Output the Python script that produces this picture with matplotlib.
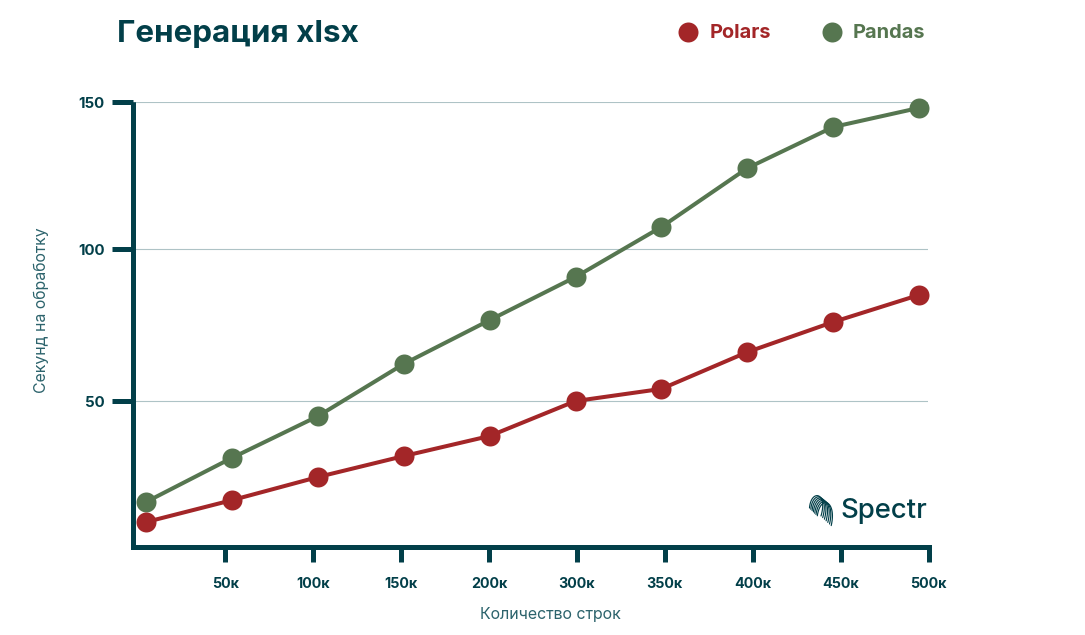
import numpy as np
import matplotlib
matplotlib.use("Agg")
import matplotlib.pyplot as plt

plt.rcParams["font.family"] = ["Inter", "Noto Sans", "DejaVu Sans"]

DARK = "#023f49"
RED = "#a32628"
GREEN = "#567650"
GRID = "#aec3c6"

point_index = [0, 1, 2, 3, 4, 5, 6, 7, 8, 9]
polars = [10.2, 17.4, 25.0, 31.9, 38.5, 50.0, 54.0, 66.1, 76.0, 84.9]
pandas_vals = [16.8, 31.3, 45.0, 62.2, 76.6, 90.8, 107.5, 127.5, 141.5, 148.0]

x_labels = ["50к", "100к", "150к", "200к", "300к", "350к", "400к", "450к", "500к"]
y_ticks = [50, 100, 150]

W, H = 1085, 635
fig = plt.figure(figsize=(W / 100, H / 100), dpi=100)

# axes box in pixels of the picture
left, right, top, bottom = 133, 928.5, 102, 547
ax = fig.add_axes([left / W, 1 - bottom / H, (right - left) / W, (bottom - top) / H])


# the gridlines in the picture are not evenly spaced
def y_forward(v):
    v = np.asarray(v, dtype=float)
    return np.where(v < 100, v * 3.04, 304 + (v - 100) * 2.94)


def y_inverse(p):
    p = np.asarray(p, dtype=float)
    return np.where(p < 304, p / 3.04, 100 + (p - 304) / 2.94)


ax.set_yscale("function", functions=(y_forward, y_inverse))
ax.set_ylim(2, 150)
ax.set_xlim((left - 146) / 85.9, (right - 146) / 85.9)

ax.plot(point_index, pandas_vals, color=GREEN, lw=2.9, marker="o", ms=14.4, mew=0, zorder=3, clip_on=False)
ax.plot(point_index, polars, color=RED, lw=2.9, marker="o", ms=14.4, mew=0, zorder=4, clip_on=False)

ax.set_yticks(y_ticks)
ax.set_yticklabels([str(v) for v in y_ticks], fontsize=10.8, fontweight="bold", color=DARK)
ax.yaxis.set_minor_locator(plt.NullLocator())
ax.tick_params(axis="y", length=15, width=3.6, color=DARK, pad=5.5)
ax.grid(axis="y", color=GRID, lw=0.8)
ax.set_axisbelow(True)

# x ticks sit on their own spacing, a bit wider than the points
ax2 = ax.twiny()
ax2.set_xlim((left - 137.5) / 87.9, (right - 137.5) / 87.9)
ax2.xaxis.set_ticks_position("bottom")
ax2.xaxis.set_label_position("bottom")
ax2.set_xticks(range(1, len(x_labels) + 1))
ax2.set_xticklabels(x_labels, fontsize=10.3, fontweight="bold", color=DARK)
ax2.tick_params(axis="x", length=11, width=3.6, color=DARK, pad=10.5)
ax.tick_params(axis="x", bottom=False, labelbottom=False)

for a in (ax, ax2):
    a.spines["top"].set_visible(False)
    a.spines["right"].set_visible(False)
    a.spines["left"].set_linewidth(3.6)
    a.spines["bottom"].set_linewidth(3.6)
    a.spines["left"].set_color(DARK)
    a.spines["bottom"].set_color(DARK)
    a.spines["left"].set_capstyle("butt")
    a.spines["bottom"].set_capstyle("projecting")
    a.patch.set_alpha(0)

# overlay in picture pixels for title, legend and logo
ov = fig.add_axes([0, 0, 1, 1], zorder=10)
ov.set_xlim(0, W)
ov.set_ylim(H, 0)
ov.axis("off")

ov.text(117, 33.5, "Генерация xlsx", fontsize=22.6, fontweight="bold", color=DARK, va="center")
ov.plot([688], [32], "o", color=RED, ms=14.4, mew=0)
ov.text(710, 33.5, "Polars", fontsize=14.4, fontweight="bold", color=RED, va="center")
ov.plot([832], [32], "o", color=GREEN, ms=14.4, mew=0)
ov.text(853, 33.5, "Pandas", fontsize=14.4, fontweight="bold", color=GREEN, va="center")

ov.text(41.5, 310, "Секунд на обработку", fontsize=11.4, color="#2c636c", rotation=90, ha="center", va="center")
ov.text(550.5, 614.5, "Количество строк", fontsize=11.5, color="#2c636c", ha="center", va="center")

# logo
ov.text(840.5, 511, "Spectr", fontsize=19.8, fontweight="medium", color=DARK, va="center")
t = np.linspace(0, 1, 40)[:, None]
for k in range(7):
    p0 = np.array([809.5 + 1.3 * k, 508 + 1.3 * k])
    p1 = np.array([811 + 1.6 * k, 489 + 0.8 * k])
    p2 = np.array([828 + 1.5 * k, 492 + 1.5 * k])
    p3 = np.array([821 + 1.7 * k, 516 + 1.6 * k])
    curve = (1 - t) ** 3 * p0 + 3 * (1 - t) ** 2 * t * p1 + 3 * (1 - t) * t ** 2 * p2 + t ** 3 * p3
    ov.plot(curve[:, 0], curve[:, 1], color=DARK, lw=0.85, solid_capstyle="round")

fig.savefig("out.png", dpi=100)
